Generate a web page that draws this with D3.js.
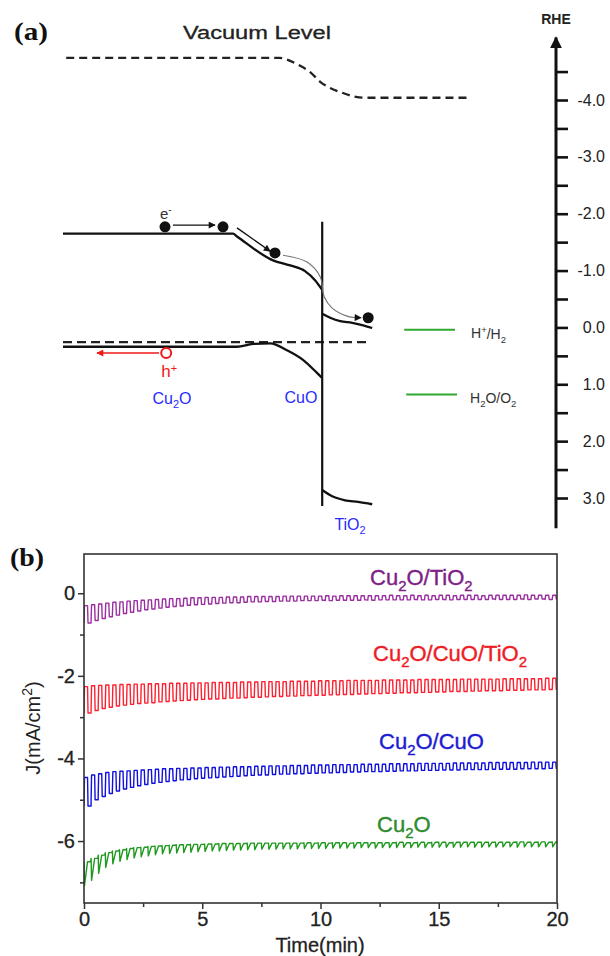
<!DOCTYPE html>
<html>
<head>
<meta charset="utf-8">
<script src="https://cdn.jsdelivr.net/npm/d3@7"></script>
<style>
  body { margin: 0; background: #fff; }
  svg text { font-family: Arial, "Liberation Sans", sans-serif; }
</style>
</head>
<body>
<svg id="chart" width="610" height="956"></svg>
<script>
// ---------- (a) band diagram: [position, energy vs RHE] ----------
const rheTicks = [-4.5, -4, -3.5, -3, -2.5, -2, -1.5, -1, -0.5, 0, 0.5, 1, 1.5, 2, 2.5, 3];
const vacuumLevel = [[0.08, -4.74], [5.4, -4.74], [5.85, -4.63], [6.18, -4.49], [6.43, -4.32], [6.68, -4.21], [6.93, -4.14], [7.23, -4.07], [7.5, -4.04], [10.13, -4.04]];
const cbCu2oCuo = [[0, -1.65], [4.25, -1.65], [4.35, -1.6], [5.25, -1.18], [5.68, -1.09], [6.05, -0.99], [6.3, -0.83], [6.48, -0.66]];
const vbCu2oCuo = [[0, 0.34], [4.35, 0.34], [4.75, 0.29], [5.18, 0.28], [5.6, 0.4], [6.0, 0.57], [6.35, 0.8], [6.48, 0.89]];
const cbTio2 = [[6.48, -0.24], [6.68, -0.17], [6.93, -0.11], [7.23, -0.08], [7.48, -0.04], [7.73, 0.01]];
const vbTio2 = [[6.48, 2.86], [6.73, 2.97], [7.05, 3.04], [7.38, 3.07], [7.73, 3.11]];
const fermiLevel = [[0, 0.26], [7.68, 0.26]];
const interfaceLine = [[6.48, -1.86], [6.48, 3.14]];
const electrons = [[2.55, -1.77], [4.0, -1.77], [5.3, -1.31], [7.63, -0.17]];
const hole = [2.58, 0.45];
const arrowE1 = [[2.75, -1.8], [3.8, -1.8]];
const arrowE2 = [[4.35, -1.75], [5.18, -1.34]];
const arcE3 = [[5.5, -1.27], [6.1, -1.15], [6.43, -0.89], [6.53, -0.54], [6.73, -0.34], [7.1, -0.2], [7.45, -0.17]];
const holeArrow = [[2.4, 0.45], [0.85, 0.45]];
const redoxH2 = [[8.53, 0.04], [9.8, 0.04]];
const redoxO2 = [[8.58, 1.18], [9.85, 1.18]];

// ---------- (b) chopped photocurrent ----------
const timeDomain = [0, 20];
const jDomain = [-7.5, 0.95];
const timeTicks = [0, 5, 10, 15, 20];
const timeMinor = [2.5, 7.5, 12.5, 17.5];
const jTicks = [0, -2, -4, -6];
const jMinor = [-1, -3, -5, -7];
const chopPeriod = 0.3; // min per light on/off cycle

const cu2oTio2Dark = [-0.30,-0.28,-0.26,-0.24,-0.22,-0.21,-0.19,-0.18,-0.17,-0.16,
  -0.15,-0.14,-0.13,-0.13,-0.12,-0.11,-0.11,-0.10,-0.10,-0.10,
  -0.09,-0.09,-0.09,-0.08,-0.08,-0.08,-0.08,-0.08,-0.07,-0.07,
  -0.07,-0.07,-0.07,-0.07,-0.06,-0.07,-0.06,-0.06,-0.06,-0.06,
  -0.06,-0.06,-0.06,-0.05,-0.06,-0.06,-0.05,-0.06,-0.05,-0.06,
  -0.05,-0.05,-0.06,-0.05,-0.05,-0.05,-0.06,-0.05,-0.05,-0.05,
  -0.05,-0.05,-0.04,-0.05,-0.05,-0.05,-0.05];
const cu2oTio2Light = [-0.72,-0.66,-0.61,-0.57,-0.53,-0.49,-0.46,-0.43,-0.40,-0.38,
  -0.36,-0.34,-0.32,-0.31,-0.29,-0.28,-0.27,-0.26,-0.25,-0.24,
  -0.23,-0.23,-0.22,-0.21,-0.21,-0.20,-0.20,-0.19,-0.19,-0.19,
  -0.18,-0.18,-0.18,-0.17,-0.18,-0.17,-0.17,-0.17,-0.17,-0.16,
  -0.17,-0.16,-0.16,-0.16,-0.16,-0.16,-0.15,-0.16,-0.16,-0.15,
  -0.15,-0.16,-0.15,-0.15,-0.15,-0.15,-0.15,-0.14,-0.15,-0.15,
  -0.15,-0.14,-0.15,-0.14,-0.14,-0.15,-0.14];

const cu2oCuoTio2Dark = [-2.26,-2.24,-2.23,-2.22,-2.22,-2.21,-2.21,-2.20,-2.20,-2.19,
  -2.19,-2.19,-2.18,-2.18,-2.18,-2.17,-2.17,-2.17,-2.16,-2.16,
  -2.16,-2.16,-2.15,-2.15,-2.15,-2.14,-2.14,-2.14,-2.14,-2.13,
  -2.13,-2.13,-2.13,-2.12,-2.12,-2.12,-2.12,-2.11,-2.11,-2.11,
  -2.11,-2.11,-2.10,-2.10,-2.10,-2.10,-2.10,-2.09,-2.09,-2.09,
  -2.09,-2.09,-2.09,-2.08,-2.08,-2.08,-2.08,-2.08,-2.08,-2.07,
  -2.07,-2.07,-2.07,-2.07,-2.07,-2.06,-2.06];
const cu2oCuoTio2Light = [-2.90,-2.84,-2.79,-2.76,-2.73,-2.71,-2.69,-2.67,-2.66,-2.65,
  -2.63,-2.62,-2.61,-2.60,-2.59,-2.58,-2.57,-2.56,-2.56,-2.55,
  -2.54,-2.54,-2.53,-2.52,-2.52,-2.51,-2.50,-2.50,-2.49,-2.49,
  -2.48,-2.48,-2.47,-2.47,-2.46,-2.46,-2.45,-2.45,-2.44,-2.44,
  -2.43,-2.43,-2.42,-2.42,-2.41,-2.41,-2.41,-2.40,-2.40,-2.39,
  -2.39,-2.38,-2.38,-2.38,-2.37,-2.37,-2.36,-2.36,-2.36,-2.35,
  -2.35,-2.35,-2.34,-2.34,-2.34,-2.33,-2.33];

const cu2oCuoDark = [-4.46,-4.40,-4.37,-4.34,-4.32,-4.31,-4.30,-4.29,-4.28,-4.27,
  -4.26,-4.25,-4.25,-4.24,-4.24,-4.23,-4.23,-4.22,-4.22,-4.21,
  -4.21,-4.20,-4.20,-4.20,-4.19,-4.19,-4.18,-4.18,-4.18,-4.17,
  -4.17,-4.17,-4.16,-4.16,-4.16,-4.15,-4.15,-4.15,-4.15,-4.14,
  -4.14,-4.14,-4.14,-4.13,-4.13,-4.13,-4.13,-4.12,-4.12,-4.12,
  -4.12,-4.12,-4.11,-4.11,-4.11,-4.11,-4.11,-4.10,-4.10,-4.10,
  -4.10,-4.10,-4.10,-4.09,-4.09,-4.09,-4.09];
const cu2oCuoLight = [-5.15,-5.00,-4.92,-4.85,-4.79,-4.74,-4.70,-4.66,-4.63,-4.60,
  -4.58,-4.56,-4.54,-4.52,-4.51,-4.49,-4.48,-4.47,-4.46,-4.45,
  -4.44,-4.43,-4.42,-4.41,-4.40,-4.40,-4.39,-4.38,-4.38,-4.37,
  -4.37,-4.36,-4.36,-4.35,-4.35,-4.34,-4.34,-4.33,-4.33,-4.32,
  -4.32,-4.32,-4.31,-4.31,-4.30,-4.30,-4.30,-4.29,-4.29,-4.29,
  -4.28,-4.28,-4.28,-4.27,-4.27,-4.27,-4.27,-4.26,-4.26,-4.26,
  -4.26,-4.25,-4.25,-4.25,-4.25,-4.24,-4.24];

const cu2oDark = [-6.50,-6.42,-6.34,-6.28,-6.24,-6.21,-6.18,-6.16,-6.15,-6.13,
  -6.12,-6.11,-6.10,-6.09,-6.09,-6.08,-6.08,-6.07,-6.07,-6.06,
  -6.06,-6.06,-6.06,-6.05,-6.05,-6.05,-6.05,-6.05,-6.05,-6.05,
  -6.05,-6.04,-6.05,-6.04,-6.05,-6.04,-6.04,-6.05,-6.04,-6.04,
  -6.04,-6.04,-6.04,-6.04,-6.03,-6.04,-6.04,-6.03,-6.04,-6.03,
  -6.03,-6.04,-6.03,-6.03,-6.03,-6.03,-6.03,-6.03,-6.03,-6.03,
  -6.03,-6.02,-6.03,-6.03,-6.02,-6.03,-6.02];
const cu2oLight = [-7.08,-6.95,-6.78,-6.64,-6.55,-6.49,-6.45,-6.41,-6.38,-6.36,
  -6.33,-6.31,-6.30,-6.29,-6.28,-6.27,-6.26,-6.25,-6.24,-6.24,
  -6.23,-6.22,-6.22,-6.21,-6.21,-6.20,-6.20,-6.20,-6.19,-6.19,
  -6.19,-6.18,-6.18,-6.18,-6.18,-6.17,-6.17,-6.17,-6.17,-6.16,
  -6.16,-6.17,-6.16,-6.16,-6.16,-6.15,-6.16,-6.15,-6.16,-6.15,
  -6.15,-6.15,-6.15,-6.15,-6.14,-6.15,-6.15,-6.14,-6.15,-6.14,
  -6.14,-6.15,-6.14,-6.14,-6.14,-6.14,-6.14];

const svg = d3.select("#chart");

// ================= panel (a) =================
const xP = d3.scaleLinear().domain([0, 10]).range([63, 463]);
const yE = d3.scaleLinear().domain([-4, 3]).range([100, 498]);
const line = d3.line().x(d => xP(d[0])).y(d => yE(d[1]));

const defs = svg.append("defs");
function marker(id, color, w, h) {
  defs.append("marker")
    .attr("id", id).attr("viewBox", "0 0 10 10").attr("refX", 9).attr("refY", 5)
    .attr("markerWidth", w).attr("markerHeight", h).attr("markerUnits", "userSpaceOnUse")
    .attr("orient", "auto")
    .append("path").attr("d", "M0,0 L10,5 L0,10 Z").attr("fill", color);
}
marker("arrBlack", "#111", 8, 7);
marker("arrRed", "#f01818", 8, 7);
marker("arrAxis", "#111", 12, 14);

const pa = svg.append("g");

pa.append("text").attr("x", 14).attr("y", 40)
  .style("font-family", "'Liberation Serif', 'Times New Roman', serif")
  .attr("font-weight", "bold").attr("font-size", 25).attr("fill", "#111")
  .attr("textLength", 34).attr("lengthAdjust", "spacingAndGlyphs").text("(a)");

pa.append("text").attr("x", 183).attr("y", 39).attr("font-size", 18).attr("fill", "#222")
  .attr("stroke", "#222").attr("stroke-width", 0.3)
  .attr("textLength", 148).attr("lengthAdjust", "spacingAndGlyphs").text("Vacuum Level");

// RHE axis
const rhe = pa.append("g").attr("transform", "translate(556,0)");
rhe.append("line").attr("x1", 0).attr("x2", 0).attr("y1", yE(3.53)).attr("y2", yE(-5.1))
  .attr("stroke", "#111").attr("stroke-width", 3).attr("marker-end", "url(#arrAxis)");
const rheAxis = d3.axisRight(yE).tickValues(rheTicks).tickSize(12)
  .tickFormat(d => Number.isInteger(d) ? d.toFixed(1) : "");
rhe.append("g").call(rheAxis).call(g => {
  g.select(".domain").remove();
  g.selectAll(".tick line").attr("stroke", "#111").attr("stroke-width", 2.6);
  g.selectAll(".tick text").attr("x", 49).attr("text-anchor", "end")
    .attr("font-size", 16).attr("fill", "#222").style("font-family", "Arial, 'Liberation Sans', sans-serif");
});
rhe.append("text").attr("x", 0).attr("y", 24).attr("text-anchor", "middle")
  .attr("font-size", 14).attr("font-weight", "bold").attr("fill", "#222").text("RHE");

// vacuum + Fermi dashed
pa.append("path").attr("d", line.curve(d3.curveMonotoneX)(vacuumLevel))
  .attr("fill", "none").attr("stroke", "#222").attr("stroke-width", 2.3).attr("stroke-dasharray", "8,5");
pa.append("path").attr("d", line.curve(d3.curveLinear)(fermiLevel))
  .attr("fill", "none").attr("stroke", "#222").attr("stroke-width", 2.2).attr("stroke-dasharray", "9,5");

// bands
[cbCu2oCuo, vbCu2oCuo, cbTio2, vbTio2].forEach(b => {
  pa.append("path").attr("d", line.curve(d3.curveMonotoneX)(b))
    .attr("fill", "none").attr("stroke", "#111").attr("stroke-width", 2.3);
});
pa.append("path").attr("d", line.curve(d3.curveLinear)(interfaceLine))
  .attr("fill", "none").attr("stroke", "#111").attr("stroke-width", 2.2);

// carriers and transfer arrows
pa.append("path").attr("d", line.curve(d3.curveLinear)(arrowE1))
  .attr("stroke", "#111").attr("stroke-width", 1.4).attr("marker-end", "url(#arrBlack)");
pa.append("path").attr("d", line.curve(d3.curveLinear)(arrowE2))
  .attr("stroke", "#111").attr("stroke-width", 1.4).attr("marker-end", "url(#arrBlack)");
pa.append("path").attr("d", line.curve(d3.curveCatmullRom)(arcE3))
  .attr("fill", "none").attr("stroke", "#777").attr("stroke-width", 1.2).attr("marker-end", "url(#arrBlack)");
pa.append("path").attr("d", line.curve(d3.curveLinear)(holeArrow))
  .attr("stroke", "#f01818").attr("stroke-width", 1.3).attr("marker-end", "url(#arrRed)");

pa.selectAll("circle.e").data(electrons).join("circle").attr("class", "e")
  .attr("cx", d => xP(d[0])).attr("cy", d => yE(d[1])).attr("r", 5.5).attr("fill", "#111");
pa.append("circle").attr("cx", xP(hole[0])).attr("cy", yE(hole[1])).attr("r", 5)
  .attr("fill", "#fff").attr("stroke", "#f01818").attr("stroke-width", 2);

const eLab = pa.append("text").attr("x", xP(electrons[0][0]) - 5).attr("y", 219)
  .attr("font-size", 15).attr("fill", "#333").text("e");
eLab.append("tspan").attr("dy", -6).attr("font-size", 10).text("-");
const hLab = pa.append("text").attr("x", xP(hole[0]) - 5).attr("y", 377)
  .attr("font-size", 17).attr("fill", "#f01818").text("h");
hLab.append("tspan").attr("dy", -5).attr("font-size", 11).text("+");

// chemical formula text with sub/superscripts
function chem(g, x, y, parts, size, color, anchor, heavy) {
  const t = g.append("text").attr("x", x).attr("y", y).attr("font-size", size)
    .attr("fill", color).attr("text-anchor", anchor || "start");
  if (heavy) t.attr("stroke", color).attr("stroke-width", heavy);
  parts.forEach(p => {
    if (p.sub) t.append("tspan").attr("dy", size * 0.28).attr("font-size", size * 0.68).text(p.sub);
    else if (p.sup) t.append("tspan").attr("dy", -size * 0.35).attr("font-size", size * 0.68).text(p.sup);
    else t.append("tspan").attr("dy", p.dy || 0).text(p.t);
  });
  return t;
}
const blue = "#2a2aff";
chem(pa, 172, 404, [{t: "Cu"}, {sub: "2"}, {t: "O", dy: -4.5}], 16, blue, "middle");
chem(pa, 301, 403, [{t: "CuO"}], 16, blue, "middle");
chem(pa, 350, 530, [{t: "TiO"}, {sub: "2"}], 16, blue, "middle");

// redox levels
[redoxH2, redoxO2].forEach(r => {
  pa.append("path").attr("d", line.curve(d3.curveLinear)(r))
    .attr("stroke", "#2ea82e").attr("stroke-width", 2);
});
chem(pa, 471, 338, [{t: "H"}, {sup: "+"}, {t: "/H", dy: 5.6}, {sub: "2"}], 14, "#333");
chem(pa, 470, 403, [{t: "H"}, {sub: "2"}, {t: "O/O", dy: -3.9}, {sub: "2"}], 14, "#333");

// ================= panel (b) =================
const x = d3.scaleLinear().domain(timeDomain).range([84, 557]);
const y = d3.scaleLinear().domain(jDomain).range([903, 554]);
const pb = svg.append("g");

pb.append("text").attr("x", 10).attr("y", 566)
  .style("font-family", "'Liberation Serif', 'Times New Roman', serif")
  .attr("font-weight", "bold").attr("font-size", 25).attr("fill", "#111")
  .attr("textLength", 34).attr("lengthAdjust", "spacingAndGlyphs").text("(b)");

pb.append("clipPath").attr("id", "plotClip").append("rect")
  .attr("x", 84).attr("y", 554).attr("width", 473).attr("height", 349);

function chopTrace(dark, light, shape) {
  const pts = [];
  const h = chopPeriod / 2, e = 0.02;
  dark.forEach((d, i) => {
    const t0 = i * chopPeriod;
    if (shape === "square") {
      pts.push([t0, light[i]], [t0 + e, d], [t0 + h, d], [t0 + h + e, light[i]], [t0 + chopPeriod, light[i]]);
    } else {
      pts.push([t0, d], [t0 + e, light[i]], [t0 + h, d], [t0 + chopPeriod - e, d]);
    }
  });
  return pts;
}

const series = [
  {dark: cu2oTio2Dark, light: cu2oTio2Light, color: "#9a2fa0", shape: "square"},
  {dark: cu2oCuoTio2Dark, light: cu2oCuoTio2Light, color: "#ff2030", shape: "square"},
  {dark: cu2oCuoDark, light: cu2oCuoLight, color: "#1010e0", shape: "square"},
  {dark: cu2oDark, light: cu2oLight, color: "#1f9a1f", shape: "saw"}
];
const traceLine = d3.line().x(d => x(d[0])).y(d => y(d[1]));
pb.append("g").attr("clip-path", "url(#plotClip)")
  .selectAll("path").data(series).join("path")
  .attr("d", s => traceLine(chopTrace(s.dark, s.light, s.shape)))
  .attr("fill", "none").attr("stroke", s => s.color).attr("stroke-width", 1.4)
  .attr("stroke-linejoin", "round");

// frame
pb.append("rect").attr("x", 84).attr("y", 554).attr("width", 473).attr("height", 349)
  .attr("fill", "none").attr("stroke", "#333").attr("stroke-width", 1.6);

const styleAxis = g => {
  g.select(".domain").remove();
  g.selectAll(".tick line").attr("stroke", "#333").attr("stroke-width", 1.5);
  g.selectAll(".tick text").attr("font-size", 20).attr("fill", "#222")
    .attr("stroke", "#222").attr("stroke-width", 0.3)
    .style("font-family", "Arial, 'Liberation Sans', sans-serif");
};
pb.append("g").attr("transform", "translate(0,903)")
  .call(d3.axisBottom(x).tickValues(timeTicks).tickSize(6).tickPadding(3).tickFormat(d => String(d))).call(styleAxis);
pb.append("g").attr("transform", "translate(0,903)")
  .call(d3.axisBottom(x).tickValues(timeMinor).tickSize(4).tickFormat("")).call(styleAxis);
pb.append("g").attr("transform", "translate(84,0)")
  .call(d3.axisLeft(y).tickValues(jTicks).tickSize(6).tickPadding(3).tickFormat(d => String(d))).call(styleAxis);
pb.append("g").attr("transform", "translate(84,0)")
  .call(d3.axisLeft(y).tickValues(jMinor).tickSize(4).tickFormat("")).call(styleAxis);

pb.append("text").attr("x", 320).attr("y", 952).attr("text-anchor", "middle")
  .attr("font-size", 20).attr("fill", "#222").attr("stroke", "#222").attr("stroke-width", 0.3)
  .text("Time(min)");
const jl = pb.append("text").attr("transform", "translate(40,728) rotate(-90)")
  .attr("text-anchor", "middle").attr("font-size", 20).attr("fill", "#222").text("J(mA/cm");
jl.append("tspan").attr("dy", -8).attr("font-size", 14).text("2");
jl.append("tspan").attr("dy", 8).text(")");

// series labels
chem(pb, 370, 585, [{t: "Cu"}, {sub: "2"}, {t: "O/TiO", dy: -6.2}, {sub: "2"}], 22, "#7e1f86", "start", 0.4);
chem(pb, 373, 661, [{t: "Cu"}, {sub: "2"}, {t: "O/CuO/TiO", dy: -6.2}, {sub: "2"}], 22, "#ee1c25", "start", 0.4);
chem(pb, 379, 749, [{t: "Cu"}, {sub: "2"}, {t: "O/CuO", dy: -6.2}], 22, "#1c1cd0", "start", 0.4);
chem(pb, 377, 832, [{t: "Cu"}, {sub: "2"}, {t: "O", dy: -6.2}], 22, "#2e8b2e", "start", 0.4);
</script>
</body>
</html>
